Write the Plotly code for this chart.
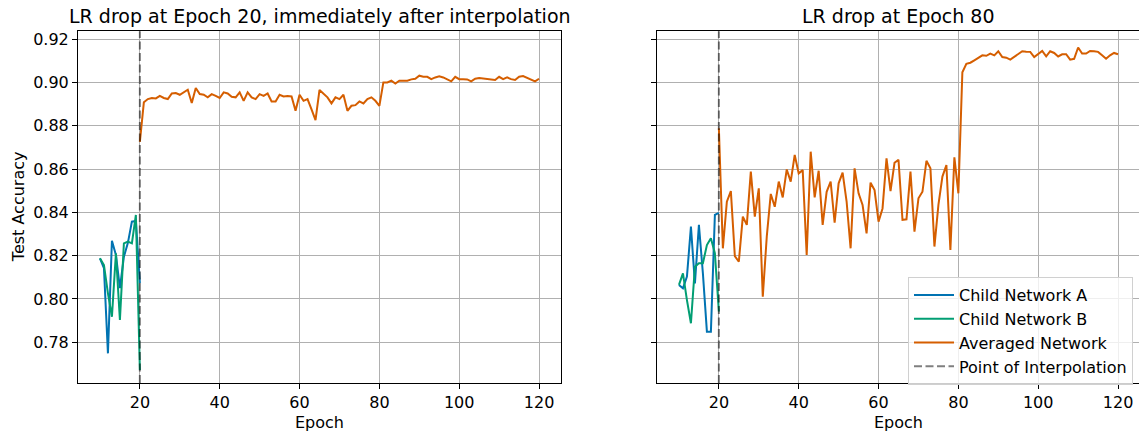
import plotly.graph_objects as go
from plotly.subplots import make_subplots

# ---------------- data ----------------
child_epochs = list(range(10, 21))
interp_epoch = 20

left_child_a = [0.8188, 0.8142, 0.7749, 0.8269, 0.8203, 0.8050, 0.8195, 0.8259, 0.8357, 0.8360, 0.8074]
left_child_b = [0.8188, 0.8157, 0.8026, 0.7918, 0.8211, 0.7903, 0.8257, 0.8265, 0.8257, 0.8388, 0.7672]

left_avg = [
    0.8725, 0.8908, 0.8923, 0.8928, 0.8926, 0.8938, 0.8928, 0.8923, 0.8949, 0.8951,
    0.8943, 0.8954, 0.8966, 0.8905, 0.8974, 0.8946, 0.8943, 0.8931, 0.8946, 0.8938,
    0.8928, 0.8954, 0.8949, 0.8934, 0.8931, 0.8954, 0.8915, 0.8954, 0.8931, 0.8923,
    0.8946, 0.8938, 0.8949, 0.8912, 0.8912, 0.8943, 0.8935, 0.8937, 0.8935, 0.8869,
    0.8943, 0.8915, 0.8923, 0.8875, 0.8826, 0.8965, 0.8946, 0.8931, 0.8903, 0.8931,
    0.8923, 0.8943, 0.8869, 0.8892, 0.8895, 0.8912, 0.8903, 0.8923, 0.8931, 0.8915,
    0.8892, 0.9000, 0.9000, 0.9008, 0.8995, 0.9008, 0.9008, 0.9008, 0.9014, 0.9017,
    0.9031, 0.9026, 0.9026, 0.9015, 0.9023, 0.9028, 0.9023, 0.9015, 0.9005, 0.9026,
    0.9015, 0.9015, 0.9014, 0.9005, 0.9017, 0.9020, 0.9018, 0.9015, 0.9011, 0.9011,
    0.9026, 0.9015, 0.9023, 0.9015, 0.9011, 0.9026, 0.9029, 0.9020, 0.9011, 0.9005,
    0.9017,
]

right_child_a = [0.8065, 0.8049, 0.8103, 0.8334, 0.8072, 0.8342, 0.8118, 0.7849, 0.7849, 0.8388, 0.8398]
right_child_b = [0.8065, 0.8118, 0.7995, 0.7888, 0.8149, 0.8165, 0.8165, 0.8249, 0.8280, 0.8211, 0.7942]

right_avg = [
    0.8788, 0.8234, 0.8449, 0.8498, 0.8198, 0.8172, 0.8380, 0.8342, 0.8588, 0.8380,
    0.8511, 0.8011, 0.8288, 0.8485, 0.8426, 0.8542, 0.8469, 0.8598, 0.8542, 0.8665,
    0.8580, 0.8595, 0.8203, 0.8680, 0.8469, 0.8592, 0.8342, 0.8495, 0.8542, 0.8352,
    0.8534, 0.8583, 0.8450, 0.8234, 0.8603, 0.8488, 0.8434, 0.8303, 0.8537, 0.8503,
    0.8357, 0.8418, 0.8649, 0.8498, 0.8629, 0.8642, 0.8365, 0.8368, 0.8588, 0.8311,
    0.8465, 0.8495, 0.8638, 0.8603, 0.8242, 0.8434, 0.8565, 0.8618, 0.8226, 0.8654,
    0.8488, 0.9047, 0.9086, 0.9091, 0.9102, 0.9114, 0.9125, 0.9123, 0.9133, 0.9125,
    0.9144, 0.9117, 0.9114, 0.9105, 0.9117, 0.9130, 0.9144, 0.9142, 0.9141, 0.9117,
    0.9130, 0.9145, 0.9120, 0.9144, 0.9136, 0.9120, 0.9130, 0.9130, 0.9105, 0.9109,
    0.9161, 0.9133, 0.9133, 0.9145, 0.9144, 0.9141, 0.9125, 0.9109, 0.9125, 0.9136,
    0.9130,
]
avg_epochs = list(range(20, 20 + len(left_avg)))

titles = ["LR drop at Epoch 20, immediately after interpolation", "LR drop at Epoch 80"]
x_ticks = [20, 40, 60, 80, 100, 120]
y_ticks = [0.78, 0.80, 0.82, 0.84, 0.86, 0.88, 0.90, 0.92]

# ---------------- style ----------------
C_A = "#0173b2"
C_B = "#029e73"
C_AVG = "#d55e00"
C_INT = "rgba(0,0,0,0.5)"
FONT = "DejaVu Sans"
W, H = 1139, 437


def px_x(v):
    return v / W


def px_y(v):
    return 1 - v / H


fig = make_subplots(rows=1, cols=2, shared_yaxes=True)

panels = [
    (1, left_child_a, left_child_b, left_avg),
    (2, right_child_a, right_child_b, right_avg),
]
for col, ca, cb, avg in panels:
    first = col == 1
    fig.add_trace(go.Scatter(x=child_epochs, y=ca, mode="lines", name="Child Network A",
                             line=dict(color=C_A, width=2), showlegend=first, legendrank=1),
                  row=1, col=col)
    fig.add_trace(go.Scatter(x=child_epochs, y=cb, mode="lines", name="Child Network B",
                             line=dict(color=C_B, width=2), showlegend=first, legendrank=2),
                  row=1, col=col)
    fig.add_trace(go.Scatter(x=avg_epochs, y=avg, mode="lines", name="Averaged Network",
                             line=dict(color=C_AVG, width=2), showlegend=first, legendrank=3),
                  row=1, col=col)
    fig.add_vline(x=interp_epoch, line=dict(color=C_INT, width=2, dash="8px,3.5px"),
                  row=1, col=col)

# legend entry for the vertical line
fig.add_trace(go.Scatter(x=[None], y=[None], mode="lines", name="Point of Interpolation",
                         line=dict(color=C_INT, width=2, dash="8px,3.5px"), legendrank=4),
              row=1, col=2)

x_dom1 = [px_x(78), px_x(561)]
x_dom2 = [px_x(657), 1.0]
y_dom = [px_y(383), px_y(31.3)]

axis_common = dict(
    showline=True, linecolor="black", linewidth=1, mirror=True,
    ticks="outside", ticklen=5, tickwidth=1, tickcolor="black",
    showgrid=True, gridcolor="#b0b0b0", gridwidth=1, zeroline=False,
    tickfont=dict(family=FONT, size=16, color="black"),
    automargin=False,
)
fig.update_xaxes(**axis_common, tickvals=x_ticks)
fig.update_yaxes(**axis_common, range=[0.7612, 0.9236], tickvals=y_ticks, tickformat=".2f")
fig.update_layout(
    xaxis=dict(domain=x_dom1, range=[4.5, 125.5]),
    xaxis2=dict(domain=x_dom2, range=[4.5, 125.25]),
    yaxis=dict(domain=y_dom), yaxis2=dict(domain=y_dom, showticklabels=False),
)

annos = []
for i, t in enumerate(titles):
    dom = x_dom1 if i == 0 else [px_x(657), px_x(1140)]
    annos.append(dict(text=t, x=(dom[0] + dom[1]) / 2, y=px_y(16), xref="paper", yref="paper",
                      xanchor="center", yanchor="middle", showarrow=False,
                      font=dict(family=FONT, size=19, color="black")))
    annos.append(dict(text="Epoch", x=(dom[0] + dom[1]) / 2, y=px_y(422), xref="paper", yref="paper",
                      xanchor="center", yanchor="middle", showarrow=False,
                      font=dict(family=FONT, size=16, color="black")))
annos.append(dict(text="Test Accuracy", x=px_x(18), y=(y_dom[0] + y_dom[1]) / 2, xref="paper", yref="paper",
                  xanchor="center", yanchor="middle", textangle=-90, showarrow=False,
                  font=dict(family=FONT, size=16, color="black")))

fig.update_layout(
    width=W, height=H,
    margin=dict(l=0, r=0, t=0, b=0, autoexpand=False),
    paper_bgcolor="white", plot_bgcolor="white",
    annotations=annos,
    font=dict(family=FONT, size=16, color="black"),
    legend=dict(x=px_x(908), y=px_y(277), xanchor="left", yanchor="top",
                bgcolor="rgba(255,255,255,0.8)", bordercolor="#d0d0d0", borderwidth=1,
                font=dict(family=FONT, size=16, color="black"),
                tracegroupgap=0, itemwidth=40),
    hovermode=False,
)

fig.write_html("out.html",
               config={"displayModeBar": False},
               post_script="document.body.style.margin='0';document.body.style.overflow='hidden';")
